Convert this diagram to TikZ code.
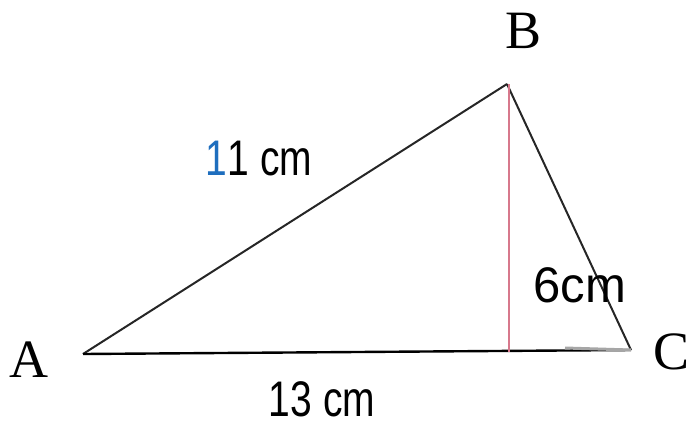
\documentclass[tikz,border=0pt]{standalone}
\usepackage{fontspec}
\setmainfont{Liberation Serif}
\newfontfamily\lblsans{Liberation Sans}
\definecolor{altred}{RGB}{215,120,140}
\definecolor{oneblue}{RGB}{30,110,190}
\begin{document}
\begin{tikzpicture}[x=1pt,y=-1pt,
  vlabel/.style={font=\fontsize{54}{54}\selectfont, inner sep=0pt},
  mlabel/.style={font=\lblsans\fontsize{50}{50}\selectfont, inner sep=0pt},
  side/.style={line width=2pt, black!85}]
\useasboundingbox (0,0) rectangle (691,429);
\coordinate (A) at (83,354);
\coordinate (B) at (507,84);
\coordinate (C) at (631,350);
\coordinate (H) at (509,352);
\coordinate (Btop) at (509,84);
\coordinate (G) at (565,348);
\draw[side] (A) -- (B);
\draw[side] (B) -- (C);
\draw[line width=2.4pt, black] (A) -- (C);
\draw[altred, line width=1.3pt] (Btop) -- (H);
\draw[gray!70, line width=3pt] (G) -- (C);
\node[vlabel] (la) at (29,360) {A};
\node[vlabel] (lb) at (524,31) {B};
\node[vlabel] (lc) at (672,352) {C};
\node[mlabel] (l11) at (259,159) {\scalebox{0.78}[1]{\textcolor{oneblue}{1}1 cm}};
\node[mlabel] (l13) at (322,399) {\scalebox{0.78}[1]{13 cm}};
\node[mlabel] (l6) at (580,285) {\scalebox{0.98}[1]{6cm}};
\end{tikzpicture}
\end{document}
